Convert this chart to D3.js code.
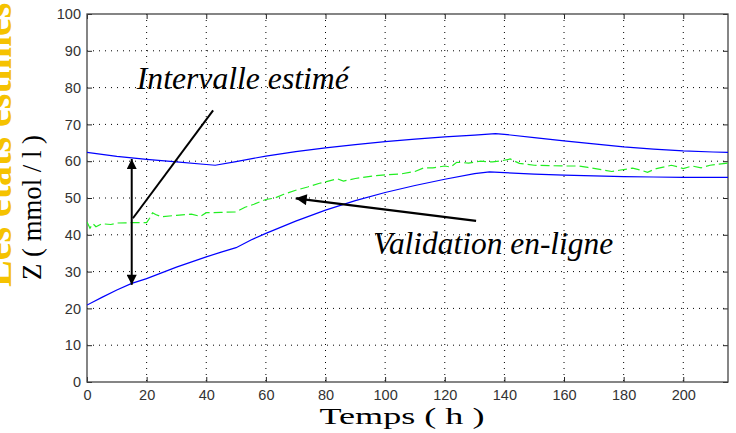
<!DOCTYPE html>
<html><head><meta charset="utf-8">
<script src="https://cdn.jsdelivr.net/npm/d3@7"></script>
<style>body{margin:0;background:#fff}svg{display:block}</style>
</head><body><svg id="c" width="736" height="433"></svg>
<script>
// ---- data ----
const xTicks = [0,20,40,60,80,100,120,140,160,180,200];
const yTicks = [0,10,20,30,40,50,60,70,80,90,100];

const upperT = [0,10,20,30,40,43,50,60,70,80,90,100,110,120,130,137,140,150,160,170,180,190,200,210,215];
const upperV = [62.4,61.3,60.5,59.8,59.1,58.9,59.9,61.4,62.6,63.6,64.5,65.3,66.0,66.6,67.1,67.5,67.3,66.4,65.5,64.7,63.9,63.3,62.8,62.5,62.4];

const lowerT = [0,5,10,15,20,30,40,45,50,55,60,70,80,90,100,110,120,130,135,140,150,160,170,180,190,200,215];
const lowerV = [20.9,23.0,25.0,26.8,28.1,31.2,34.0,35.3,36.5,38.6,40.4,43.7,46.7,49.3,51.5,53.4,55.1,56.6,57.1,56.9,56.5,56.2,56.0,55.8,55.7,55.6,55.6];

const greenT = [0,1,2,3,5,8,10,15,20,21,22,23,25,30,35,38,40,45,50,53,56,60,63,66,70,74,78,80,84,86,90,95,100,105,110,113,116,120,122,124,128,132,136,139,142,145,150,155,160,165,168,172,176,179,183,186,188,191,194,196,198,200,203,206,209,212,215];
const greenV = [43.5,41.8,43.0,42.2,43.0,42.8,43.2,43.3,43.3,44.5,46.0,45.5,44.9,45.3,45.6,45.0,46.0,46.1,46.2,47.5,48.3,49.6,50.0,51.0,52.1,53.0,54.0,54.4,55.2,54.6,55.3,55.9,56.3,56.5,57.2,58.2,58.2,58.7,58.4,59.7,59.5,60.0,59.8,60.1,60.6,59.4,58.9,58.8,58.7,58.7,58.3,57.8,57.2,57.6,58.1,57.5,57.0,58.0,58.5,58.9,58.5,58.0,58.7,58.2,58.9,59.2,59.5];

// annotation anchors (data units)
const intervalArrowX = [15, 15];
const intervalArrowY = [60.6, 26.4];
const intervalPointerX = [42.3, 15.4];
const intervalPointerY = [73.8, 44.5];
const validationArrowX = [130.5, 70];
const validationArrowY = [43.8, 49.9];

const labelInterval = "Intervalle estimé";
const labelValidation = "Validation en-ligne";
const xTitle = "Temps  ( h )";
const yTitle = "Z ( mmol / l )";
const sideTitle = "Les états estimés";

// ---- drawing ----
const svg = d3.select("#c");
const L = 87, R = 728, T = 14, B = 382;
const x = d3.scaleLinear().domain([0,215]).range([L,R]);
const y = d3.scaleLinear().domain([0,100]).range([B,T]);

const defs = svg.append("defs");
defs.append("marker").attr("id","ah").attr("viewBox","0 0 10 10")
  .attr("refX",10).attr("refY",5).attr("markerWidth",7).attr("markerHeight",5)
  .attr("markerUnits","strokeWidth").attr("orient","auto-start-reverse")
  .append("path").attr("d","M0,0 L10,5 L0,10 Z").attr("fill","#000");
defs.append("clipPath").attr("id","pc").append("rect")
  .attr("x",L).attr("y",T).attr("width",R-L).attr("height",B-T);

// grid
const grid = svg.append("g");
grid.selectAll(".gx").data(xTicks.filter(d=>d>0)).join("line")
  .attr("x1",d=>x(d)).attr("x2",d=>x(d)).attr("y1",T).attr("y2",B)
  .attr("stroke","#000").attr("stroke-width",1).attr("stroke-dasharray","1,5");
grid.selectAll(".gy").data(yTicks.filter(d=>d>0&&d<100)).join("line")
  .attr("x1",L).attr("x2",R).attr("y1",d=>y(d)).attr("y2",d=>y(d))
  .attr("stroke","#000").attr("stroke-width",1).attr("stroke-dasharray","1,5");

// axes
const fnt = "Liberation Sans, Arial, sans-serif";
const ax = svg.append("g").attr("transform",`translate(0,${B})`)
  .call(d3.axisBottom(x).tickValues(xTicks).tickSize(-5).tickPadding(8).tickFormat(d3.format("d")));
const ay = svg.append("g").attr("transform",`translate(${L},0)`)
  .call(d3.axisLeft(y).tickValues(yTicks).tickSize(-5).tickPadding(6).tickFormat(d3.format("d")));
const axT = svg.append("g").attr("transform",`translate(0,${T})`)
  .call(d3.axisTop(x).tickValues(xTicks).tickSize(-5).tickFormat(""));
const ayR = svg.append("g").attr("transform",`translate(${R},0)`)
  .call(d3.axisRight(y).tickValues(yTicks).tickSize(-5).tickFormat(""));
[ax,ay,axT,ayR].forEach(g=>{
  g.select(".domain").remove();
  g.selectAll("line").attr("stroke","#222");
  g.selectAll("text").attr("font-family",fnt).attr("font-size",14.5).attr("fill","#333");
});
svg.append("rect").attr("x",L).attr("y",T).attr("width",R-L).attr("height",B-T)
  .attr("fill","none").attr("stroke","#444").attr("stroke-width",1.3);

// series
const plot = svg.append("g").attr("clip-path","url(#pc)");
const line = d3.line().x(d=>x(d[0])).y(d=>y(d[1]));
plot.append("path").datum(d3.zip(upperT,upperV)).attr("d",line)
  .attr("fill","none").attr("stroke","#0000ff").attr("stroke-width",1.2);
plot.append("path").datum(d3.zip(lowerT,lowerV)).attr("d",line)
  .attr("fill","none").attr("stroke","#0000ff").attr("stroke-width",1.2);
plot.append("path").datum(d3.zip(greenT,greenV)).attr("d",line)
  .attr("fill","none").attr("stroke","#22ee22").attr("stroke-width",1.2)
  .attr("stroke-dasharray","9,4");

// annotations
const ann = svg.append("g");
ann.append("line")
  .attr("x1",x(intervalArrowX[0])).attr("y1",y(intervalArrowY[0]))
  .attr("x2",x(intervalArrowX[1])).attr("y2",y(intervalArrowY[1]))
  .attr("stroke","#000").attr("stroke-width",2)
  .attr("marker-start","url(#ah)").attr("marker-end","url(#ah)");
ann.append("line")
  .attr("x1",x(intervalPointerX[0])).attr("y1",y(intervalPointerY[0]))
  .attr("x2",x(intervalPointerX[1])).attr("y2",y(intervalPointerY[1]))
  .attr("stroke","#000").attr("stroke-width",2);
ann.append("line")
  .attr("x1",x(validationArrowX[0])).attr("y1",y(validationArrowY[0]))
  .attr("x2",x(validationArrowX[1])).attr("y2",y(validationArrowY[1]))
  .attr("stroke","#000").attr("stroke-width",2.2)
  .attr("marker-end","url(#ah)");

const serif = "Liberation Serif, Times New Roman, Times, serif";
ann.append("text").attr("x",x(16.7)).attr("y",y(79.6)).text(labelInterval)
  .style("font-family",serif).style("font-style","italic").style("font-size","31px")
  .attr("textLength",212).attr("lengthAdjust","spacingAndGlyphs");
ann.append("text").attr("x",x(96)).attr("y",y(34.7)).text(labelValidation)
  .style("font-family",serif).style("font-style","italic").style("font-size","31px")
  .attr("textLength",240).attr("lengthAdjust","spacingAndGlyphs");

// titles
svg.append("text").attr("x",402).attr("y",424).attr("text-anchor","middle")
  .style("font-family",serif).style("font-size","24px").text(xTitle)
  .attr("textLength",165).attr("lengthAdjust","spacingAndGlyphs");
svg.append("text").attr("transform","translate(41,207.5) rotate(-90)")
  .attr("text-anchor","middle").style("font-family",serif).style("font-size","28px")
  .attr("textLength",145).attr("lengthAdjust","spacingAndGlyphs").text(yTitle);
svg.append("text").attr("transform","translate(11,287) rotate(-90)")
  .style("font-family",serif).style("font-weight","bold").style("font-size","40px")
  .attr("fill","#f5c200").text(sideTitle);
</script></body></html>
